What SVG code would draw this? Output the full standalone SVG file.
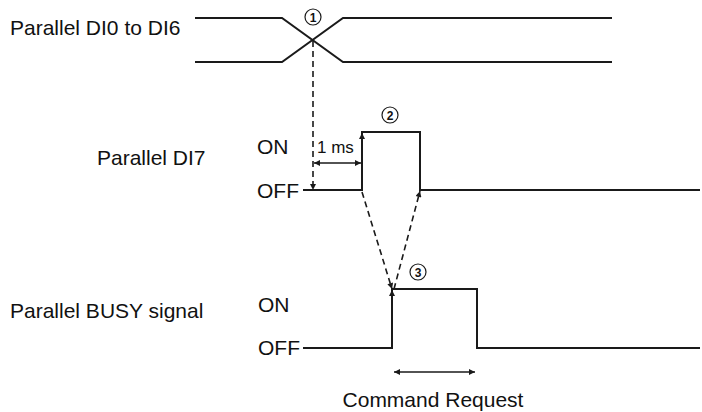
<svg xmlns="http://www.w3.org/2000/svg" width="702" height="412" viewBox="0 0 702 412">
<style>
.t{font-family:"Liberation Sans",Arial,sans-serif;font-size:21px;fill:#111}
.s{fill:none;stroke:#1a1a1a;stroke-width:2}
.d{fill:none;stroke:#1a1a1a;stroke-width:1.6;stroke-dasharray:6,4}
.a{fill:none;stroke:#1a1a1a;stroke-width:1.4}
.c{fill:#fff;stroke:#1a1a1a;stroke-width:1.2}
.n{font-family:"Liberation Sans",Arial,sans-serif;font-size:12px;font-weight:bold;fill:#111;text-anchor:middle}
</style>
<defs>
<marker id="ah" viewBox="0 0 10 10" refX="10" refY="5" markerWidth="9" markerHeight="6" markerUnits="userSpaceOnUse" orient="auto">
<path d="M0,0 L10,5 L0,10 z" fill="#1a1a1a"/>
</marker>
<marker id="as" viewBox="0 0 10 10" refX="0" refY="5" markerWidth="9" markerHeight="6" markerUnits="userSpaceOnUse" orient="auto">
<path d="M10,0 L0,5 L10,10 z" fill="#1a1a1a"/>
</marker>
</defs>
<g id="labels">
<text class="t" x="10" y="35">Parallel DI0 to DI6</text>
<text class="t" x="97" y="165">Parallel DI7</text>
<text class="t" x="10" y="318">Parallel BUSY signal</text>
<text class="t" x="257" y="154">ON</text>
<text class="t" x="257" y="198">OFF</text>
<text class="t" x="258" y="312">ON</text>
<text class="t" x="258" y="355">OFF</text>
<text class="t" x="433" y="407" text-anchor="middle">Command Request</text>
</g>
<g id="signal-di0-6">
<path class="s" d="M195,18 H282 L343,62 H612"/>
<path class="s" d="M195,62 H282 L343,18 H612"/>
</g>
<g id="signal-di7">
<path class="s" d="M303,190 H362 V132 H420 V190 H700"/>
</g>
<g id="signal-busy">
<path class="s" d="M303,348 H392 V289 H477 V348 H700"/>
</g>
<g id="connectors">
<path class="d" d="M313,41 V190" marker-end="url(#ah)"/>
<path class="d" d="M362,192 L392,289" marker-end="url(#ah)"/>
<path class="d" d="M394,289 L420,191" marker-end="url(#ah)"/>
<path class="a" d="M362,150 V133" marker-end="url(#ah)"/>
<path class="a" d="M392,305 V290" marker-end="url(#ah)"/>
<path class="a" d="M314,163 H361" marker-start="url(#as)" marker-end="url(#ah)"/>
<path class="a" d="M394,372 H475" marker-start="url(#as)" marker-end="url(#ah)"/>
<text class="t" x="317" y="153" style="font-size:17px">1 ms</text>
</g>
<g id="marker-1">
<circle class="c" cx="313" cy="17" r="8"/>
<text class="n" x="313" y="21.5">1</text>
</g>
<g id="marker-2">
<circle class="c" cx="390" cy="115" r="8"/>
<text class="n" x="390" y="119.5">2</text>
</g>
<g id="marker-3">
<circle class="c" cx="418" cy="272" r="8"/>
<text class="n" x="418" y="276.5">3</text>
</g>
</svg>
